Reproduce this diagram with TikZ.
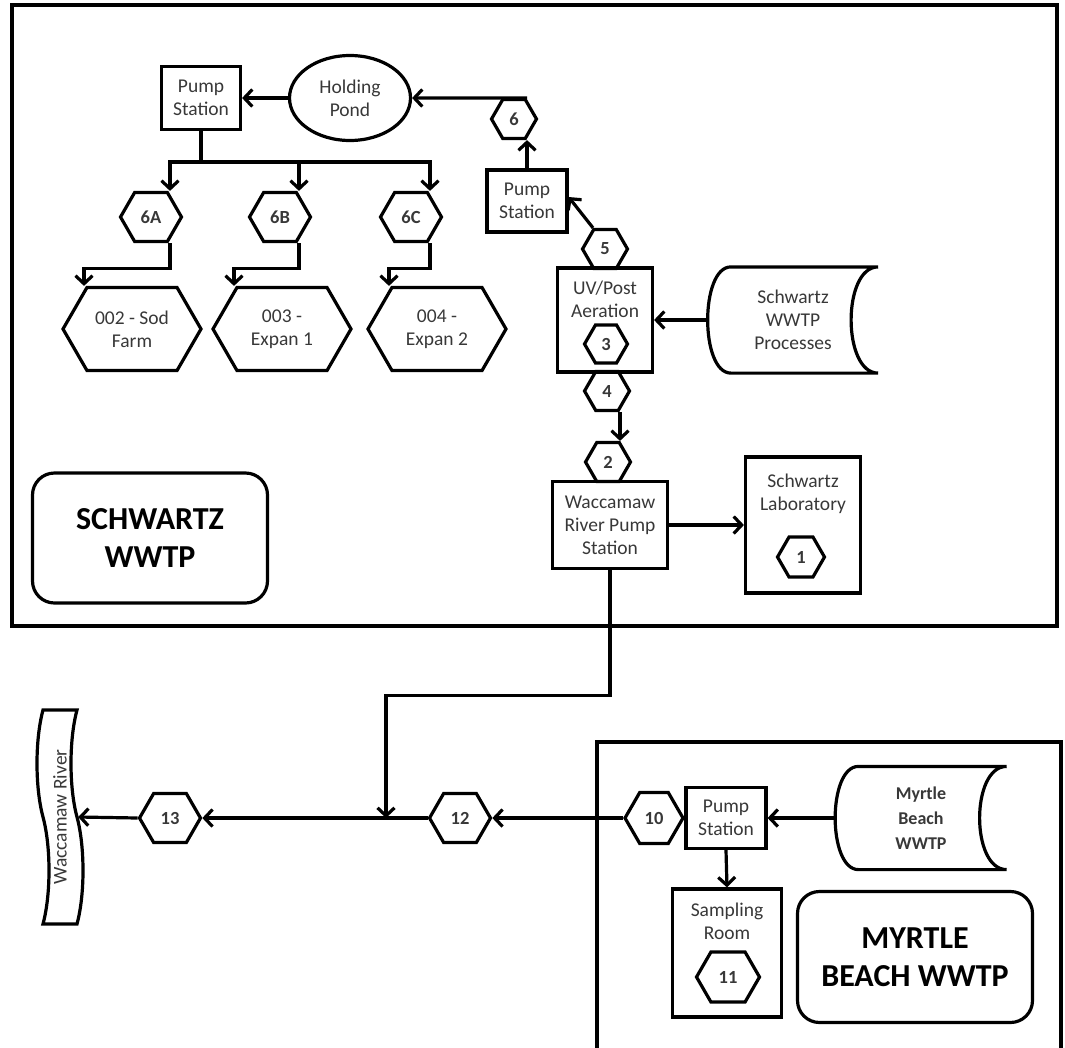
\documentclass[tikz,border=0pt]{standalone}
\usepackage{fontspec}
\setmainfont{Carlito}
\usepackage{tikz}
\usetikzlibrary{arrows.meta}
\usetikzlibrary{shapes}
\usetikzlibrary{calc}

\newcommand{\lblfont}{\fontsize{19.5}{23}\selectfont}
\newcommand{\hexfont}{\bfseries\fontsize{18.5}{20}\selectfont}
\newcommand{\titlefont}{\bfseries\fontsize{32}{38}\selectfont}

\begin{document}
\begin{tikzpicture}[x=1pt, y=-1pt, line width=3.2pt, >={Straight Barb[length=8pt,width=17pt]},
    every node/.style={text=black!78},
    proc/.style={draw, rectangle, inner sep=0pt, align=center, font=\lblfont},
    hexa/.style={draw, signal, signal to=west and east, signal pointer angle=120, inner sep=0pt, font=\hexfont},
    hexs/.style={hexa, minimum width=45, minimum height=39},
    hexm/.style={hexa, minimum width=61, minimum height=49},
    hexl/.style={hexa, minimum width=138, minimum height=83, font=\lblfont, align=center},
    stored/.style={rectangle, inner sep=0pt, align=center, font=\lblfont},
    title/.style={draw, rounded corners=22, inner sep=0pt, align=center, font=\titlefont, text=black}]
  \useasboundingbox (0,0) rectangle (1065,1047);

  % plant outlines
  \draw (12,5) rectangle (1057,626);
  \draw (597,1060) -- (597,742) -- (1061,742) -- (1061,1060);

  % Schwartz WWTP
  \node[proc, minimum width=79, minimum height=63]              (ps1)  at (201,98)  {Pump\\Station};
  \node[draw, ellipse, minimum width=121, minimum height=85, inner sep=0pt, align=center, font=\lblfont]
                                                                 (pond) at (350,98)  {Holding\\Pond};
  \node[hexs]                                                    (h6)   at (514,119) {6};
  \node[proc, minimum width=80, minimum height=62]              (ps2)  at (527,201) {Pump\\Station};
  \node[hexm]                                                    (h6a)  at (151,217) {6A};
  \node[hexm]                                                    (h6b)  at (280,217) {6B};
  \node[hexm]                                                    (h6c)  at (411,217) {6C};
  \node[hexl]                                                    (out2) at (132,329) {002 - Sod\\Farm};
  \node[hexl]                                                    (out3) at (282,329) {003 -\\Expan 1};
  \node[hexl]                                                    (out4) at (437,329) {004 -\\Expan 2};
  \node[hexs]                                                    (h5)   at (605,249) {5};
  \node[proc, minimum width=95, minimum height=104]              (uv)   at (605,320) {};
  \node[font=\lblfont, align=center, inner sep=0pt]              (uvtx) at (605,299) {UV/Post\\Aeration};
  \node[hexs, minimum width=43, minimum height=38]              (h3)   at (606,344) {3};
  \node[stored, minimum width=167, minimum height=103]          (swp)  at (793,320) {Schwartz\\WWTP\\Processes};
  \node[hexs]                                                    (h4)   at (607,391) {4};
  \node[hexs]                                                    (h2)   at (608,462) {2};
  \node[proc, minimum width=115, minimum height=87]             (wrps) at (610,525) {Waccamaw\\River Pump\\Station};
  \node[proc, minimum width=115, minimum height=136]            (lab)  at (803,525) {};
  \node[font=\lblfont, align=center, inner sep=0pt]              (labtx) at (803,494) {Schwartz\\Laboratory};
  \node[hexs, minimum width=47, minimum height=40]              (h1)   at (801,557) {1};
  \node[title, minimum width=235, minimum height=130]           (swt)  at (150,538) {SCHWARTZ\\WWTP};

  % outfall line
  \node[draw, tape, rotate=90, minimum width=214, minimum height=46, tape bend height=12,
        inner sep=0pt, font=\lblfont]                            (river) at (60,817) {Waccamaw River};
  \node[hexm]                                                    (h13)  at (170,818) {13};
  \node[hexm]                                                    (h12)  at (460,818) {12};
  \coordinate                                                    (jn)   at (386,818);

  % Myrtle Beach WWTP
  \node[hexm, minimum width=58, minimum height=51]              (h10)  at (654,818) {10};
  \node[proc, minimum width=80, minimum height=61]              (ps3)  at (726,818) {Pump\\Station};
  \node[stored, minimum width=168, minimum height=100, font=\bfseries\fontsize{18}{25}\selectfont]
                                                                 (mbw)  at (921,818) {Myrtle\\Beach\\WWTP};
  \node[proc, minimum width=109, minimum height=128]            (samp) at (727,953) {};
  \node[font=\lblfont, align=center, inner sep=0pt]              (samptx) at (727,921) {Sampling\\Room};
  \node[hexm, minimum width=63, minimum height=50]              (h11)  at (728,977) {11};
  \node[title, minimum width=235, minimum height=131]           (mbt)  at (915,957) {MYRTLE\\BEACH WWTP};

  % stored data outlines
  \foreach \n in {swp,mbw}
    \draw (\n.north east) -- ([xshift=23]\n.north west)
      .. controls ([xshift=-8]\n.north west) and ([xshift=-8]\n.south west) .. ([xshift=23]\n.south west)
      -- (\n.south east)
      .. controls ([xshift=-36]\n.south east) and ([xshift=-36]\n.north east) .. (\n.north east);

  % flows
  \draw (ps1.south) -- (ps1.south |- 0,162) coordinate (split);
  \foreach \h/\o in {h6a/out2,h6b/out3,h6c/out4} {
    \draw[->] (split) -| ([xshift=19]\h.north);
    \draw[->] ([xshift=19]\h.south) -- ++(0,25) -| ([xshift=-48]\o.north);
  }
  \path[->]
    (pond) edge (ps1)
    (ps2.north) edge (ps2.north |- h6.south)
    (ps2.north |- h6.north) edge (pond.east)
    ([xshift=-12]h5.north) edge ([yshift=4]ps2.east)
    (swp.west) edge (uv.east)
    ([xshift=13]h4.south) edge ([xshift=13]h4.south |- h2.north)
    (wrps.east) edge (wrps.east -| lab.west)
    (h10.west) edge (h12.east)
    (h12.west) edge (h13.east)
    (h13.west) edge (river.south)
    (mbw.west) edge (ps3.east)
    (ps3.south) edge (samp.north);
  \draw[->] (wrps.south) -- ++(0,125) -| (jn);
\end{tikzpicture}
\end{document}
